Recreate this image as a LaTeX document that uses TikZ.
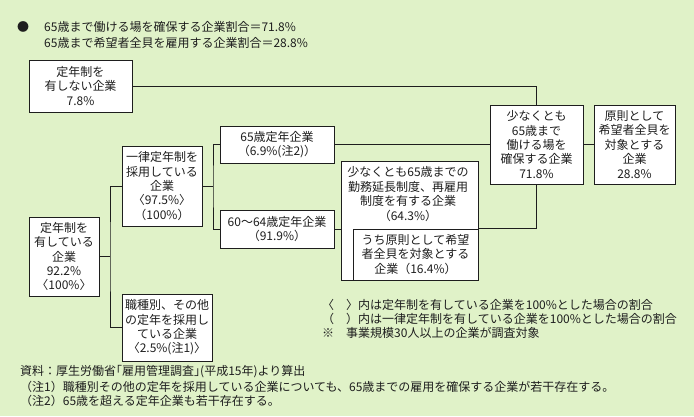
\documentclass[tikz,border=0pt]{standalone}
\usepackage{fontspec}
\setmainfont{Noto Sans CJK JP}
\definecolor{bg}{RGB}{224,242,200}
\definecolor{ink}{RGB}{30,30,30}
\newcommand\jpfs{\fontsize{12}{14.4}\selectfont}
\begin{document}
\begin{tikzpicture}[x=1pt,y=-1pt,
  box/.style={draw=ink,fill=white,line width=1pt,inner sep=0pt,align=center,font=\jpfs,text=ink},
  lbl/.style={inner sep=0pt,align=center,font=\jpfs,text=ink},
  note/.style={inner sep=0pt,anchor=west,font=\jpfs,text=ink},
  conn/.style={draw=ink,line width=1pt}]
\fill[bg] (0,0) rectangle (694,416);
\useasboundingbox (0,0) rectangle (694,416);
% header
\node[lbl] (bul) at (23,27) {●};
\node[note] (h1) at (44,27) {65歳まで働ける場を確保する企業割合＝71.8\%};
\node[note] (h2) at (44,43) {65歳まで希望者全貝を雇用する企業割合＝28.8\%};
% boxes
\node[box,minimum width=103pt,minimum height=52pt] (A) at (80.5,86) {定年制を\\有しない企業\\7.8\%};
\node[box,minimum width=70pt,minimum height=79pt] (B) at (64,256.5) {定年制を\\有している\\企業\\92.2\%\\〈100\%〉};
\node[box,minimum width=80pt,minimum height=80pt] (C) at (162,186) {一律定年制を\\採用している\\企業\\〈97.5\%〉\\（100\%）};
\node[box,minimum width=90pt,minimum height=67pt] (D) at (167,327.5) {職種別、その他\\の定年を採用し\\ている企業\\〈2.5\%(注1)〉};
\node[box,minimum width=114pt,minimum height=37pt] (E1) at (277,144.5) {65歳定年企業\\（6.9\%(注2)）};
\node[box,minimum width=114pt,minimum height=38pt] (E2) at (277,229) {60〜64歳定年企業\\（91.9\%）};
\node[box,minimum width=93pt,minimum height=79pt] (F) at (536.5,144.5) {少なくとも\\65歳まで\\働ける場を\\確保する企業\\71.8\%};
\node[box,minimum width=81pt,minimum height=79pt] (G) at (634.5,144.5) {原則として\\希望者全貝を\\対象とする\\企業\\28.8\%};
\node[box,minimum width=137pt,minimum height=119pt] (H) at (409.5,220.5) {};
\node[lbl] (Ht) at (408,194) {少なくとも65歳までの\\勤務延長制度、再雇用\\制度を有する企業\\（64.3\%）};
\node[box,minimum width=125pt,minimum height=51pt] (I) at (415.5,254.5) {うち原則として希望\\者全貝を対象とする\\企業（16.4\%）};
% junctions
\coordinate (j1) at (110,256.5);
\coordinate (j2) at (213,186);
% connectors
\draw[conn] (A.east) -| (F.north);
\draw[conn] (B.east) -- (j1);
\draw[conn] (C.west) -| (j1) |- (D.west);
\draw[conn] (C.east) -- (j2);
\draw[conn] (E1.west) -| (j2) |- (E2.west);
\draw[conn] (E1.east) -- (F.west);
\draw[conn] (E2.east) -- (E2.east -| H.west);
\draw[conn] (F.east) -- (G.west);
\draw[conn] (F.south) |- (I.north east);
% right notes
\node[note] (n1) at (322,305) {〈　〉内は定年制を有している企業を100\%とした場合の割合};
\node[note] (n2) at (322,319) {（　）内は一律定年制を有している企業を100\%とした場合の割合};
\node[note] (n3) at (322,333) {※　事業規模30人以上の企業が調査対象};
% bottom notes
\node[note] (s0) at (20,372) {資料：厚生労働省｢雇用管理調査｣(平成15年)より算出};
\node[note] (s1) at (20,387) {（注1）職種別その他の定年を採用している企業についても、65歳までの雇用を確保する企業が若干存在する。};
\node[note] (s2) at (20,401) {（注2）65歳を超える定年企業も若干存在する。};
\end{tikzpicture}
\end{document}
